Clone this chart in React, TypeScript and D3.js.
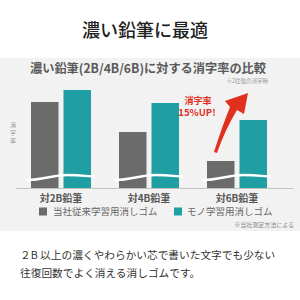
import React from "react";
import * as d3 from "d3";

const categories = ["対2B鉛筆", "対4B鉛筆", "対6B鉛筆"];
const seriesNames = ["当社従来学習用消しゴム", "モノ学習用消しゴム"];
const conventionalValues = [86, 56, 27];
const monoValues = [98, 85, 68];
const colors = ["#6b6b6b", "#1f9fa3"];

const W = 300;
const H = 300;
const FONT = "'Noto Sans CJK JP', 'Noto Sans', sans-serif";

export default function App() {
  const baseY = 188;
  const x0 = d3.scaleBand<string>().domain(categories).range([17, 281]).paddingInner(0.318).paddingOuter(0.159);
  const x1 = d3.scaleBand<string>().domain(seriesNames).range([0, x0.bandwidth()]).paddingInner(0.154);
  const y = d3.scaleLinear().domain([0, 100]).range([baseY, baseY - 100]);
  const seriesValues = [conventionalValues, monoValues];
  const breakY = y(10);

  const a6 = x0(categories[2])!;
  const tailX = a6 + 7;
  const tailY = y(36);

  return (
    <svg width={W} height={H} style={{ position: "absolute", left: 0, top: 0 }} fontFamily={FONT}>
      <rect x={0} y={0} width={W} height={H} fill="#fff" />
      <text x={145} y={37} textAnchor="middle" fontSize={18} fontWeight={500} fill="#222">濃い鉛筆に最適</text>

      <rect x={0} y={58} width={W} height={173} fill="#f2f2f2" />
      <text x={148} y={73} textAnchor="middle" fontSize={12.5} fontWeight={700} fill="#5a5a5a" textLength={236} lengthAdjust="spacingAndGlyphs">濃い鉛筆(2B/4B/6B)に対する消字率の比較</text>
      <text x={268} y={83} textAnchor="end" fontSize={5.5} fill="#999">※2往復の消字時</text>

      <text x={13} y={127} textAnchor="middle" fontSize={6} fill="#999">
        {"消字率".split("").map((c, i) => (
          <tspan key={i} x={13} dy={i === 0 ? 0 : 8}>{c}</tspan>
        ))}
      </text>

      {categories.map((cat, ci) => (
        <g key={cat} transform={`translate(${x0(cat)},0)`}>
          {seriesNames.map((s, si) => (
            <rect key={s} x={x1(s)} y={y(seriesValues[si][ci])} width={x1.bandwidth()} height={baseY - y(seriesValues[si][ci])} fill={colors[si]} />
          ))}
        </g>
      ))}

      {categories.map((cat) => {
        const bx = x0(cat)! - 4;
        const w = x0.bandwidth() + 8;
        const d = `M${bx},${breakY + 2} C${bx + w * 0.25},${breakY + 2} ${bx + w * 0.35},${breakY - 3} ${bx + w * 0.6},${breakY - 3} S${bx + w * 0.9},${breakY - 1} ${bx + w},${breakY - 2}`;
        return <path key={cat} d={d} fill="none" stroke="#fff" strokeWidth={2.5} />;
      })}

      <line x1={16} x2={294} y1={baseY + 0.5} y2={baseY + 0.5} stroke="#c4c4c4" strokeWidth={1} />

      {categories.map((cat) => (
        <text key={cat} x={x0(cat)! + x0.bandwidth() / 2} y={202} textAnchor="middle" fontSize={10} fontWeight={700} fill="#555">{cat}</text>
      ))}

      <rect x={39} y={207.5} width={8} height={8} fill={colors[0]} />
      <text x={53} y={215} fontSize={9.5} fill="#666">{seriesNames[0]}</text>
      <rect x={174} y={207.5} width={8} height={8} fill={colors[1]} />
      <text x={187} y={215} fontSize={9.5} fill="#666">{seriesNames[1]}</text>
      <text x={294} y={227} textAnchor="end" fontSize={6} fill="#888">※当社測定方法による</text>

      <path
        d={`M${tailX},${tailY} Q${tailX + 9},${tailY - 28} ${tailX + 16},${tailY - 45} L${tailX + 11},${tailY - 51} L${tailX + 34},${tailY - 59} L${tailX + 30},${tailY - 38} L${tailX + 23},${tailY - 42} Q${tailX + 11},${tailY - 22} ${tailX + 3},${tailY + 1} Z`}
        fill="#e1301e"
      />
      <text x={198} y={103.5} textAnchor="middle" fontSize={9} fontWeight={700} fill="#e1301e">消字率</text>
      <text x={197} y={116} textAnchor="middle" fontSize={9.5} fontWeight={700} fill="#e1301e">15%UP!</text>

      <text x={20} y={259} fontSize={10.7} fill="#333">２B 以上の濃くやわらかい芯で書いた文字でも少ない</text>
      <text x={20} y={277} fontSize={10.7} fill="#333">往復回数でよく消える消しゴムです。</text>
    </svg>
  );
}
